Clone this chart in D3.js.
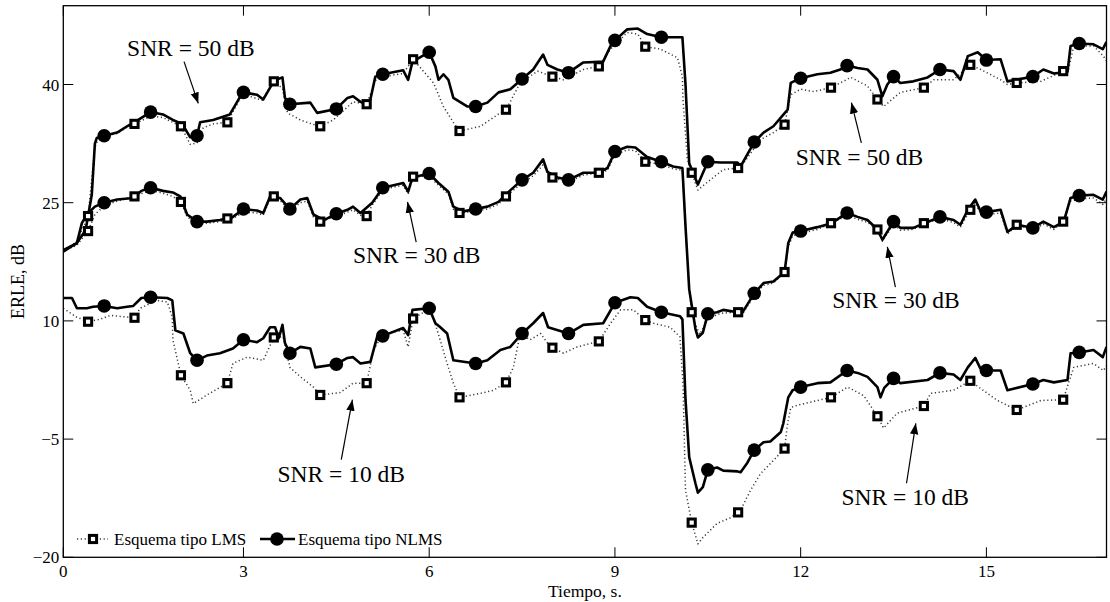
<!DOCTYPE html>
<html><head><meta charset="utf-8">
<script src="https://cdn.jsdelivr.net/npm/d3@7"></script>
<style>
body{margin:0;background:#fff}
svg{display:block}
text{font-family:"Liberation Serif","Times New Roman",Times,serif;fill:#000}
</style>
</head><body>
<svg id="chart" width="1110" height="602"></svg>
<script>
// ---------------- data ----------------
const xDomain = [0.09, 16.94];
const yDomain = [-20, 50];
const xTicks = [0, 3, 6, 9, 12, 15];
const xTickLabels = ["0", "3", "6", "9", "12", "15"];
const yTicks = [-20, -5, 10, 25, 40];
const yTickLabels = ["\u221220", "\u22125", "10", "25", "40"];
const xLabel = "Tiempo, s.";
const yLabel = "ERLE, dB";
const legendLabels = ["Esquema tipo LMS", "Esquema tipo NLMS"];

const markerTimesNLMS = [0.75,1.5,2.25,3.0,3.75,4.5,5.25,6.0,6.75,7.5,8.25,9.0,9.75,10.5,11.25,12.0,12.75,13.5,14.25,15.0,15.75,16.5];
const markerTimesLMS  = [0.49,1.24,1.99,2.74,3.49,4.24,4.99,5.74,6.49,7.24,7.99,8.74,9.49,10.24,10.99,11.74,12.49,13.24,13.99,14.74,15.49,16.24];

// marker values (read at marker times)
const nlms50Markers = [33.5,36.5,33.5,39,37.5,36.9,41.3,44.1,37.2,40.7,41.5,45.6,46,30.2,32.7,40.8,42.4,41,41.9,43.1,41,45.2];
const lms50Markers  = [23.3,35,34.7,35.2,40.4,34.7,37.5,43.2,34.1,36.8,41,42.3,44.8,28.8,29.4,34.9,39.6,38.1,39.6,42.5,40.2,41.7];
const nlms30Markers = [25,26.9,22.6,24.2,24.2,23.6,26.9,28.7,24.2,27.9,27.9,31.5,30.2,10.9,13.5,21.4,23.7,22.6,23.2,23.8,21.8,25.9];
const lms30Markers  = [21.4,25.8,25.1,23,25.8,22.6,23.3,28.3,23.7,25.8,28.2,28.8,30.2,11.1,11.1,16.2,22.4,21.6,22.4,24.1,22.2,22.6];
const nlms10Markers = [11.9,13,5,7.6,5.9,4.5,8.1,11.6,4.6,8.4,8.4,12.3,11.1,-8.9,-6.4,1.6,3.7,2.7,3.4,3.7,2,6];
const lms10Markers  = [9.9,10.4,3.1,2.1,7.9,0.6,2.1,10.3,0.3,2.2,6.6,7.4,10.1,-15.6,-14.3,-6.2,0.3,-2.1,-0.8,2.4,-1.3,0];

// curve samples [time, ERLE]
const nlms50 = [[0.09,19],[0.3,19.8],[0.45,21.5],[0.55,26],[0.6,32.5],[0.63,33.2],[0.96,33.9],[1.12,34.7],[1.3,35.5],[1.7,36.2],[1.86,35.5],[2.01,35],[2.14,33.3],[2.3,35.2],[2.51,35.5],[2.78,36.2],[2.95,38.5],[3.22,38.7],[3.32,38.1],[3.43,39.6],[3.5,40.5],[3.63,40.9],[3.67,38.3],[4.08,37.7],[4.19,36.4],[4.68,38.3],[4.77,38.5],[4.89,37.8],[5.0,37.5],[5.05,38.1],[5.13,41],[5.58,41.8],[5.66,40.6],[5.73,42.9],[6.1,42.3],[6.15,40.6],[6.23,41.3],[6.31,40.6],[6.39,38.3],[6.62,37.2],[6.94,37.7],[7.12,39],[7.31,39.4],[7.68,41.9],[7.84,43.8],[7.91,42.5],[8.07,41.9],[8.49,42.8],[8.81,42.9],[8.93,44.9],[9.2,47],[9.37,47.1],[9.52,46.4],[10.09,46],[10.14,40],[10.2,30],[10.34,27.3],[10.7,30.1],[10.98,30.1],[11.03,29.6],[11.4,33.9],[11.56,34.7],[11.79,36.8],[11.84,40.2],[12.27,41.3],[12.48,41.5],[12.64,41.9],[12.92,42.1],[13.08,41.9],[13.24,40.6],[13.32,38.5],[13.4,40],[13.61,40.2],[13.82,40.4],[14.05,40.9],[14.47,41.7],[14.58,40.6],[14.7,43.6],[14.86,44.1],[15.23,43.2],[15.34,40.4],[15.92,41.9],[16.09,41.4],[16.31,41.6],[16.36,44.9],[16.73,45.1],[16.88,44.5],[16.94,45.4]];
const lms50 = [[0.09,19],[0.3,20],[0.45,22.5],[0.55,28],[0.6,32],[0.66,33.2],[0.96,33.8],[1.12,34.6],[1.51,36],[1.7,35.8],[1.86,35.2],[2.14,32.4],[2.25,32.6],[2.35,34.5],[2.51,35],[2.95,38.3],[3.06,38.6],[3.3,38],[3.63,39.5],[3.71,36.4],[3.92,35.5],[4.1,35],[4.45,35.5],[4.77,37.8],[5.13,40.5],[5.26,41],[5.58,41.4],[6.07,40.2],[6.23,37.2],[6.39,35.2],[6.83,34.7],[7.11,36.2],[7.47,40.2],[7.75,41.7],[8.17,40.6],[8.49,41.9],[8.93,44.5],[9.2,46.6],[9.37,46.4],[9.73,44.5],[10.01,43.4],[10.09,41],[10.1,38],[10.17,30.5],[10.34,26.6],[10.54,27.9],[10.75,29.2],[11.03,29.5],[11.35,33],[11.56,33.9],[11.84,38.7],[12.0,39.4],[12.21,39.1],[12.64,40.2],[12.81,40.9],[13.08,39.8],[13.34,37.2],[13.61,39],[14.15,40.6],[14.47,40.6],[14.91,41.9],[15.23,40.6],[15.34,40],[15.88,40.4],[16.33,42],[16.4,44.5],[16.52,44.9],[16.73,44.9],[16.89,43.6],[16.94,43]];
const nlms30 = [[0.09,18.8],[0.31,19.9],[0.39,22.4],[0.47,23.5],[0.6,24.5],[0.96,25.4],[1.22,25.6],[1.35,26.5],[1.7,26.5],[1.86,26.3],[1.98,25.8],[2.09,23.5],[2.41,22.6],[2.62,22.8],[2.83,23.2],[3.22,24],[3.32,23.7],[3.43,25.8],[3.59,25.6],[3.92,25.4],[4.03,25.6],[4.13,23.5],[4.3,22.8],[4.68,24.1],[4.77,24.5],[4.89,23.7],[5.08,25],[5.58,27.5],[5.66,26.4],[5.73,28.2],[6.15,27.5],[6.31,26.4],[6.39,24.5],[6.55,23.9],[6.94,24.5],[7.12,25.1],[7.3,26.5],[7.68,28.8],[7.84,30.5],[7.91,28.9],[8.07,28.2],[8.49,28.8],[8.73,28.8],[8.88,29.4],[9.2,32.1],[9.33,32],[9.52,30.8],[9.94,29.6],[10.09,29.4],[10.14,22],[10.2,14],[10.3,9],[10.34,7.9],[10.42,8.5],[10.65,11.1],[10.75,11.4],[10.98,11.1],[11.03,10.7],[11.4,14.8],[11.56,15],[11.74,16.2],[11.8,19.9],[11.87,21.2],[12.27,21.9],[12.5,22.4],[12.92,23.2],[13.08,22.8],[13.24,21.6],[13.32,20.3],[13.61,21.8],[13.82,21.8],[14.0,22.4],[14.47,22.8],[14.58,22.2],[14.7,24.1],[14.82,25.4],[14.9,24],[15.23,24.1],[15.34,21.3],[15.5,22.2],[15.92,22.6],[16.09,21.9],[16.25,22.6],[16.36,25.6],[16.73,26],[16.88,25.4],[16.94,26.4]];
const lms30 = [[0.09,18.9],[0.31,19.6],[0.4,20.5],[0.6,23.5],[0.75,24.6],[0.96,25.2],[1.5,26.6],[1.7,26.2],[1.86,25.8],[2.09,23.2],[2.25,22.3],[2.41,22.4],[2.62,22.6],[2.83,23.0],[3.0,23.8],[3.22,23.7],[3.32,23.4],[3.43,25.5],[3.59,25.3],[3.75,24],[3.92,25],[4.03,25.2],[4.13,23.2],[4.5,23.3],[4.68,23.8],[4.77,24.1],[4.89,23.4],[5.08,24.7],[5.26,26.7],[5.58,27.2],[5.66,26.1],[6.0,28.4],[6.15,27.2],[6.31,26.1],[6.39,24.2],[6.75,23.9],[6.94,24.2],[7.12,24.8],[7.5,27.5],[7.68,28.4],[7.84,29.8],[8.25,27.6],[8.49,28.5],[8.88,29.1],[9.0,31.1],[9.2,31.7],[9.33,31.6],[9.76,29.8],[9.94,29.3],[10.09,29.1],[10.14,22],[10.2,14],[10.3,9.5],[10.37,8.3],[10.5,10.2],[10.65,10.8],[10.75,11],[11.03,10.5],[11.25,13.2],[11.4,14.5],[11.56,14.8],[11.8,19.4],[11.87,20.8],[12.0,21.1],[12.27,21.6],[12.76,23.4],[12.92,22.9],[13.08,22.5],[13.32,20.1],[13.5,22.3],[13.61,21.5],[13.82,21.6],[14.26,22.9],[14.47,22.5],[14.58,21.9],[14.82,25],[14.9,23.7],[15.02,23.5],[15.23,23.7],[15.34,21],[15.76,21.5],[15.92,22.3],[16.09,21.6],[16.36,25.2],[16.51,25.5],[16.73,25.6],[16.88,24.8],[16.94,25.5]];
const nlms10 = [[0.09,12.9],[0.23,12.9],[0.31,11.6],[0.47,11.6],[0.57,11.8],[0.96,11.6],[1.12,11.8],[1.22,11.9],[1.35,12.9],[1.77,12.9],[1.85,12.6],[1.9,8.8],[2.03,8.4],[2.14,5.9],[2.41,5.6],[2.62,5.9],[2.83,6.5],[3.22,7.3],[3.32,7.8],[3.43,9.2],[3.51,9.2],[3.57,7.8],[3.63,9.5],[3.67,7.2],[3.92,6.7],[4.08,6.5],[4.16,4.1],[4.68,5.3],[4.77,5.4],[4.89,4.6],[5.05,4.8],[5.16,8],[5.58,9.1],[5.66,8.2],[5.73,11.4],[6.1,9.7],[6.18,9.2],[6.29,8.4],[6.39,5],[6.94,5],[7.15,6.3],[7.31,6.7],[7.68,9.7],[7.84,11],[7.92,9.2],[8.49,9.5],[8.81,9.7],[9.25,13],[9.37,12.9],[9.52,11.8],[10.05,10.6],[10.09,10.2],[10.14,0],[10.2,-7.3],[10.3,-10.6],[10.34,-11.8],[10.42,-11.1],[10.65,-8.6],[10.75,-9],[10.98,-9.1],[11.03,-9.2],[11.14,-8],[11.4,-5.4],[11.51,-5.3],[11.68,-4.1],[11.72,-3.0],[11.8,0.3],[11.87,1.2],[12.27,2.1],[12.48,2.2],[12.92,3.4],[13.08,2.9],[13.24,1.6],[13.29,0.3],[13.35,1.5],[13.61,2.1],[14.05,2.5],[14.47,3.2],[14.58,2.5],[14.7,4.1],[14.82,5.3],[14.9,4.0],[15.23,3.7],[15.34,1.2],[15.92,2.5],[16.09,2.2],[16.31,2.5],[16.36,5.9],[16.73,6.3],[16.88,5.4],[16.94,6.7]];
const lms10 = [[0.09,11.6],[0.3,10.5],[0.68,10.2],[0.85,10.7],[1.33,11.6],[1.6,12.6],[1.77,12.4],[1.85,10.5],[1.86,7.6],[2.14,1.2],[2.19,-0.5],[2.41,0.6],[2.83,4.6],[3.06,5.4],[3.32,5],[3.64,8],[3.75,4.1],[3.92,2.9],[4.13,1.6],[4.56,0.9],[4.77,2.1],[5.1,6.3],[5.26,8.4],[5.58,8.8],[5.66,6.7],[6.02,11.6],[6.13,8.8],[6.29,4.6],[6.39,2.1],[6.83,0.8],[7.04,1.2],[7.36,4.1],[7.47,8.4],[7.63,7.6],[7.8,8.4],[7.91,7.2],[8.17,5.9],[8.39,6.7],[8.93,9.7],[9.09,11.4],[9.3,11.4],[9.62,9.7],[9.89,9.2],[10.05,8],[10.1,2],[10.14,-11.5],[10.34,-18.3],[10.42,-17.5],[10.65,-15.7],[10.86,-15],[11.03,-14],[11.19,-11.5],[11.35,-9.4],[11.56,-7.7],[11.79,-3],[11.84,-1],[11.95,-0.7],[12.27,-0.1],[12.76,1.6],[13.02,0.5],[13.34,-3.6],[13.56,-1.7],[14.1,0.8],[14.47,1.2],[14.91,1.4],[15.18,-0.1],[15.88,-0.1],[16.41,4.1],[16.73,4.6],[16.89,3.7],[16.94,4.3]];

// annotations: text anchor (start) and arrow tail/head in data coords
const annoTexts = ["SNR = 50 dB","SNR = 50 dB","SNR = 30 dB","SNR = 30 dB","SNR = 10 dB","SNR = 10 dB"];
const annoTextPos = [[1.12,43.6],[11.92,29.8],[4.77,17.35],[12.51,11.6],[3.55,-10.4],[12.66,-13.4]];
const annoArrowFrom = [[2.04,42.9],[12.98,32.6],[5.79,20.0],[13.53,14.3],[4.58,-7.6],[13.71,-10.6]];
const annoArrowTo = [[2.27,37.6],[12.82,37.7],[5.65,25.1],[13.40,19.4],[4.76,0.0],[13.86,-3.0]];

// ---------------- drawing ----------------
const plot = {left: 63.3, right: 1106.5, top: 5.7, bottom: 557.3};
const svg = d3.select("#chart");
const x = d3.scaleLinear().domain(xDomain).range([plot.left, plot.right]);
const y = d3.scaleLinear().domain(yDomain).range([plot.bottom, plot.top]);

const defs = svg.append("defs");
defs.append("clipPath").attr("id","clip")
  .append("rect").attr("x",plot.left).attr("y",plot.top)
  .attr("width",plot.right-plot.left).attr("height",plot.bottom-plot.top);
const marker = defs.append("marker").attr("id","ah")
  .attr("viewBox","0 0 10 10").attr("refX",10).attr("refY",5)
  .attr("markerWidth",11).attr("markerHeight",11).attr("markerUnits","userSpaceOnUse")
  .attr("orient","auto");
marker.append("path").attr("d","M0,1.2 L10,5 L0,8.8 Z").attr("fill","#000");

const g = svg.append("g").attr("clip-path","url(#clip)");
const line = d3.line().x(d=>x(d[0])).y(d=>y(d[1]));

function withMarkers(curve, times, vals){
  const pts = curve.concat(times.map((t,i)=>[t, vals[i]]));
  pts.sort((a,b)=>a[0]-b[0]);
  return pts;
}
const series = [
  {curve: lms50, times: markerTimesLMS, vals: lms50Markers, type:"lms"},
  {curve: lms30, times: markerTimesLMS, vals: lms30Markers, type:"lms"},
  {curve: lms10, times: markerTimesLMS, vals: lms10Markers, type:"lms"},
  {curve: nlms50, times: markerTimesNLMS, vals: nlms50Markers, type:"nlms"},
  {curve: nlms30, times: markerTimesNLMS, vals: nlms30Markers, type:"nlms"},
  {curve: nlms10, times: markerTimesNLMS, vals: nlms10Markers, type:"nlms"}
];
const lmsStyle = {stroke:"#3a3a3a", width:1.5, dash:"1.2,2.6"};
const nlmsStyle = {stroke:"#000", width:2.6, dash:null};

series.forEach(s=>{
  const st = s.type==="lms" ? lmsStyle : nlmsStyle;
  g.append("path").datum(withMarkers(s.curve, s.times, s.vals))
    .attr("d", line).attr("fill","none").attr("stroke",st.stroke)
    .attr("stroke-width",st.width).attr("stroke-linejoin","round")
    .attr("stroke-dasharray", st.dash);
});
function drawSquare(sel, cx, cy){
  sel.append("rect").attr("x",cx-3.6).attr("y",cy-3.6).attr("width",7.2).attr("height",7.2)
    .attr("fill","#fff").attr("stroke","#000").attr("stroke-width",3);
}
function drawCircle(sel, cx, cy){
  sel.append("circle").attr("cx",cx).attr("cy",cy).attr("r",6.8).attr("fill","#000");
}
series.forEach(s=>{
  s.times.forEach((t,i)=>{
    if (s.type==="lms") drawSquare(g, x(t), y(s.vals[i]));
    else drawCircle(g, x(t), y(s.vals[i]));
  });
});

// frame
svg.append("rect").attr("x",plot.left).attr("y",plot.top)
  .attr("width",plot.right-plot.left).attr("height",plot.bottom-plot.top)
  .attr("fill","none").attr("stroke","#000").attr("stroke-width",1.3);

// ticks (inward, mirrored)
const tl = 10;
const fs = 17;
xTicks.forEach((t,i)=>{
  const px = x(Math.max(t, xDomain[0]));
  svg.append("line").attr("x1",px).attr("x2",px).attr("y1",plot.bottom).attr("y2",plot.bottom-tl).attr("stroke","#000").attr("stroke-width",1);
  svg.append("line").attr("x1",px).attr("x2",px).attr("y1",plot.top).attr("y2",plot.top+tl).attr("stroke","#000").attr("stroke-width",1);
  svg.append("text").attr("x",px).attr("y",plot.bottom+20).attr("text-anchor","middle")
    .attr("font-size",fs).text(xTickLabels[i]);
});
yTicks.forEach((v,i)=>{
  const py = y(v);
  svg.append("line").attr("x1",plot.left).attr("x2",plot.left+tl).attr("y1",py).attr("y2",py).attr("stroke","#000").attr("stroke-width",1);
  svg.append("line").attr("x1",plot.right).attr("x2",plot.right-tl).attr("y1",py).attr("y2",py).attr("stroke","#000").attr("stroke-width",1);
  svg.append("text").attr("x",plot.left-4).attr("y",py+6).attr("text-anchor","end")
    .attr("font-size",fs).text(yTickLabels[i]);
});

// axis labels
svg.append("text").attr("x",(plot.left+plot.right)/2).attr("y",597).attr("text-anchor","middle")
  .attr("font-size",17.5).text(xLabel);
svg.append("text").attr("transform",`translate(24,${(plot.top+plot.bottom)/2}) rotate(-90)`)
  .attr("text-anchor","middle").attr("font-size",18).text(yLabel);

// annotations
annoTexts.forEach((txt,i)=>{
  svg.append("text").attr("x",x(annoTextPos[i][0])).attr("y",y(annoTextPos[i][1]))
    .attr("font-size",23.5).text(txt);
  svg.append("line").attr("x1",x(annoArrowFrom[i][0])).attr("y1",y(annoArrowFrom[i][1]))
    .attr("x2",x(annoArrowTo[i][0])).attr("y2",y(annoArrowTo[i][1]))
    .attr("stroke","#000").attr("stroke-width",1.2).attr("marker-end","url(#ah)");
});

// legend
const lg = svg.append("g");
const ly = 539;
lg.append("line").attr("x1",77).attr("x2",108).attr("y1",ly).attr("y2",ly)
  .attr("stroke",lmsStyle.stroke).attr("stroke-width",lmsStyle.width).attr("stroke-dasharray",lmsStyle.dash);
drawSquare(lg, 93, ly);
lg.append("text").attr("x",114).attr("y",ly+6).attr("font-size",fs).text(legendLabels[0]);
lg.append("line").attr("x1",260).attr("x2",295).attr("y1",ly).attr("y2",ly)
  .attr("stroke","#000").attr("stroke-width",nlmsStyle.width);
drawCircle(lg, 277, ly);
lg.append("text").attr("x",298).attr("y",ly+6).attr("font-size",fs).text(legendLabels[1]);
</script>
</body></html>
